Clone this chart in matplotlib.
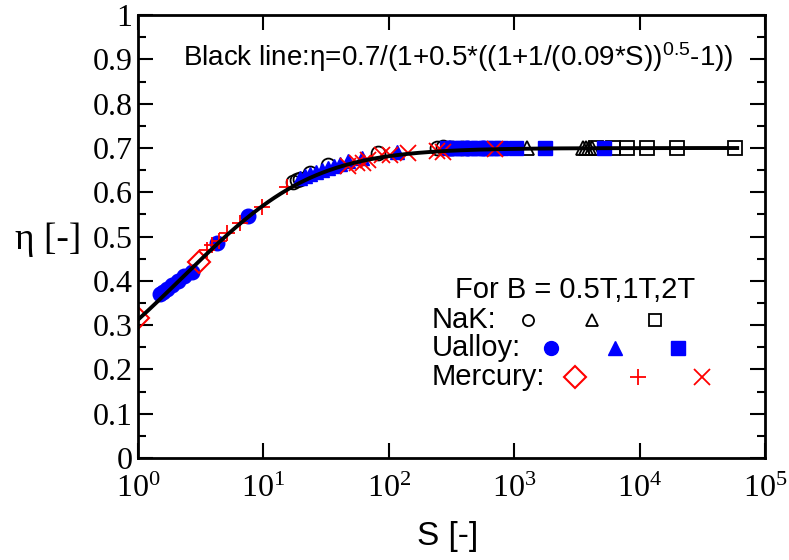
import numpy as np
import matplotlib
matplotlib.use("Agg")
import matplotlib.pyplot as plt
from matplotlib.ticker import FixedLocator, FuncFormatter, MultipleLocator

# NaK (open black): B = 0.5T circles, 1T triangles, 2T squares
nak_c_S = [17.2, 18.5, 19.6, 23.5, 32.7, 82, 242, 271, 320, 380]
nak_c_eta = [0.623, 0.628, 0.630, 0.643, 0.661, 0.688, 0.700, 0.702, 0.700, 0.701]
nak_t_S = [310, 1265, 3540, 3740, 3950, 4170]
nak_t_eta = [0.700, 0.701, 0.700, 0.700, 0.700, 0.700]
nak_s_S = [4490, 6140, 7940, 11460, 19870, 57650]
nak_s_eta = [0.700, 0.700, 0.700, 0.700, 0.700, 0.700]

# Ualloy (filled blue)
ual_c_S = [1.50, 1.58, 1.70, 1.87, 2.08, 2.33, 2.70, 4.26, 7.54, 300, 420, 560]
ual_c_eta = [0.370, 0.375, 0.381, 0.390, 0.400, 0.410, 0.420, 0.485, 0.546, 0.700, 0.700, 0.700]
ual_t_S = [19.6, 21.4, 23.5, 26.2, 29.4, 32.7, 36.6, 40.8, 47.2, 61, 116, 340, 480, 650]
ual_t_eta = [0.632, 0.636, 0.641, 0.645, 0.650, 0.655, 0.660, 0.665, 0.671, 0.678, 0.690, 0.700, 0.700, 0.700]
ual_s_S = [290, 330, 380, 440, 510, 590, 680, 780, 1033, 1760, 5200]
ual_s_eta = [0.700, 0.700, 0.700, 0.700, 0.700, 0.700, 0.700, 0.700, 0.701, 0.701, 0.701]

# Mercury (red)
merc_d_S = [1.0, 3.06]
merc_d_eta = [0.316, 0.442]
merc_p_S = [3.55, 3.89, 4.4, 5.13, 6.51, 9.75, 15.4]
merc_p_eta = [0.470, 0.481, 0.490, 0.508, 0.530, 0.567, 0.612]
merc_x_S = [47.3, 55.9, 62.2, 68.3, 87.8, 102, 142, 242, 271, 703]
merc_x_eta = [0.659, 0.666, 0.666, 0.673, 0.684, 0.684, 0.688, 0.693, 0.690, 0.697]

x_ticks = [1, 10, 100, 1000, 10000, 100000]
y_ticks = [0, 0.1, 0.2, 0.3, 0.4, 0.5, 0.6, 0.7, 0.8, 0.9, 1]

BLUE = "#0000ff"
RED = "#ff0000"
SERIF = "Liberation Serif"
SANS = "Liberation Sans"

fig = plt.figure(figsize=(7.89, 5.6), dpi=100)
ax = fig.add_axes([0.175, 0.182, 0.7946, 0.791])

ms = 10
ax.plot(nak_c_S, nak_c_eta, "o", ms=ms, mfc="none", mec="k", mew=1.3)
ax.plot(nak_t_S, nak_t_eta, "^", ms=ms, mfc="none", mec="k", mew=1.3)
ax.plot(nak_s_S, nak_s_eta, "s", ms=ms - 0.5, mfc="none", mec="k", mew=1.3)
ax.plot(ual_c_S, ual_c_eta, "o", ms=ms + 0.5, color=BLUE)
ax.plot(ual_t_S, ual_t_eta, "^", ms=ms + 0.5, color=BLUE)
ax.plot(ual_s_S, ual_s_eta, "s", ms=ms, color=BLUE)
ax.plot(merc_d_S, merc_d_eta, "D", ms=11.5, mfc="none", mec=RED, mew=1.5)
ax.plot(merc_p_S, merc_p_eta, "+", ms=12, color=RED, mew=1.3)
ax.plot(merc_x_S, merc_x_eta, "x", ms=11, color=RED, mew=1.3)

# fitted curve, as printed on the chart
S = np.logspace(0, np.log10(6e4), 300)
eta = 0.7 / (1 + 0.5 * ((1 + 1 / (0.09 * S)) ** 0.5 - 1))
ax.plot(S, eta, color="k", lw=2.8, zorder=5)

ax.set_xscale("log")
ax.set_xlim(1, 1e5)
ax.set_ylim(0, 1)
ax.xaxis.set_major_locator(FixedLocator(x_ticks))
ax.xaxis.set_minor_locator(FixedLocator([]))
ax.xaxis.set_major_formatter(FuncFormatter(
    lambda v, p: r"$\mathregular{10^{%d}}$" % int(round(np.log10(v)))))
ax.yaxis.set_major_locator(FixedLocator(y_ticks))
ax.yaxis.set_minor_locator(MultipleLocator(0.05))
ax.yaxis.set_major_formatter(FuncFormatter(lambda v, p: "%g" % v))

ax.tick_params(which="both", direction="in", top=True, right=True, width=1.5)
ax.tick_params(which="major", length=11)
ax.tick_params(which="minor", length=6)
ax.tick_params(axis="y", pad=4)
ax.tick_params(axis="x", pad=12)
for lab in ax.get_xticklabels() + ax.get_yticklabels():
    lab.set_fontfamily(SERIF)
    lab.set_fontsize(23)
for sp in ax.spines.values():
    sp.set_linewidth(2)

ax.set_xlabel("S [-]", family=SANS, fontsize=24, va="center")
ax.xaxis.set_label_coords(0.494, -0.178)
ax.set_ylabel("η [-]", family=SERIF, fontsize=27, rotation=0, ha="center", va="center")
ax.yaxis.set_label_coords(-0.1435, 0.492)

ax.text(0.0718, 0.905,
        r"Black line:η=0.7/(1+0.5*((1+1/(0.09*S$\mathregular{))^{0.5}}$-1))",
        transform=ax.transAxes, family=SANS, fontsize=20, va="center", ha="left")

# legend block
ax.text(0.506, 0.379, "For B = 0.5T,1T,2T", transform=ax.transAxes,
        family=SANS, fontsize=21, va="center", ha="left")
rows = [
    ("NaK:", 0.3115, [0.622, 0.724, 0.8246],
     [dict(marker="o", ms=8, mfc="none", mec="k", mew=1.3),
      dict(marker="^", ms=9, mfc="none", mec="k", mew=1.3),
      dict(marker="s", ms=8.5, mfc="none", mec="k", mew=1.3)]),
    ("Ualloy:", 0.248, [0.659, 0.761, 0.861],
     [dict(marker="o", ms=10, color=BLUE),
      dict(marker="^", ms=10.5, color=BLUE),
      dict(marker="s", ms=9.5, color=BLUE)]),
    ("Mercury:", 0.183, [0.697, 0.797, 0.8995],
     [dict(marker="D", ms=11, mfc="none", mec=RED, mew=1.5),
      dict(marker="+", ms=12, color=RED, mew=1.3),
      dict(marker="x", ms=11, color=RED, mew=1.3)]),
]
for label, yy, xs, styles in rows:
    ax.text(0.469, yy, label, transform=ax.transAxes, family=SANS,
            fontsize=21, va="center", ha="left")
    for xx, st in zip(xs, styles):
        ax.plot([xx], [yy], transform=ax.transAxes, ls="none", clip_on=False, **st)

fig.savefig("out.png", dpi=100)
